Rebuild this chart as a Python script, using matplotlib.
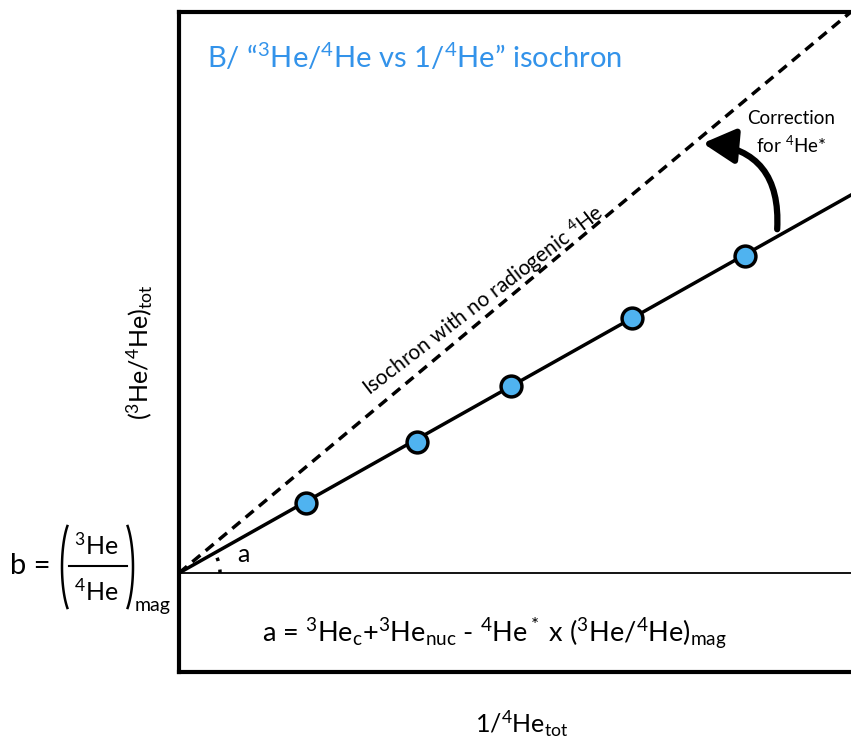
import numpy as np
import matplotlib
matplotlib.use("Agg")
import matplotlib.pyplot as plt
from matplotlib.patches import FancyArrowPatch, Arc

plt.rcParams['font.family'] = ['Lato', 'DejaVu Sans']
plt.rcParams['mathtext.fontset'] = 'custom'
plt.rcParams['mathtext.rm'] = 'Lato'
plt.rcParams['mathtext.it'] = 'Lato:italic'
plt.rcParams['mathtext.bf'] = 'Lato:bold'

# schematic data (x = 1/4He_tot, y = 3He/4He_tot - b), arbitrary units
x_pts = [127, 238, 332, 453, 566]
y_pts = [70, 131, 187, 255, 317]
slope_meas = 0.5625      # measured isochron
slope_norad = 0.835      # isochron with no radiogenic 4He
x_max, y_min, y_max = 674, -99, 561

fig = plt.figure(figsize=(8.51, 7.52), dpi=100)
ax = fig.add_axes([179/851, 80/752, 674/851, 660/752])
ax.set_xlim(0, x_max); ax.set_ylim(y_min, y_max)
ax.set_xticks([]); ax.set_yticks([])
for s in ['left', 'top', 'bottom']:
    ax.spines[s].set_linewidth(3)
ax.spines['right'].set_visible(False)

xx = np.array([0, x_max])
ax.axhline(0, color='black', lw=1.3)
ax.plot(xx, slope_norad*xx, color='black', lw=2.5, ls=(0, (3, 2)))
ax.plot(xx, slope_meas*xx, color='black', lw=2.5)
ax.plot(x_pts, y_pts, 'o', ms=15, mfc='#4fb3f0', mec='black', mew=2.5, zorder=5)

# angle a
ax.add_patch(Arc((0, 0), 82, 82, theta1=0, theta2=30, ls=(0, (1, 2.5)), lw=2.5, color='black'))
ax.text(58, 18, 'a', fontsize=18, ha='left', va='center')

# correction arrow
arr = FancyArrowPatch((598, 341), (521, 430), connectionstyle='arc3,rad=0.5',
                      arrowstyle='-|>,head_length=13,head_width=7', lw=4.5, color='black',
                      mutation_scale=1.5)
ax.add_patch(arr)
ax.text(612, 455, 'Correction', fontsize=13.5, ha='center', va='center')
ax.text(612, 428, 'for $^4$He*', fontsize=13.5, ha='center', va='center')

ax.text(305, 272, 'Isochron with no radiogenic $^4$He', fontsize=15, rotation=37.5,
        ha='center', va='center', rotation_mode='anchor')

ax.text(28, 516, 'B/ “$^3$He/$^4$He vs 1/$^4$He” isochron', fontsize=21,
        color='#3393ea', ha='left', va='center')

ax.text(315, -60, 'a = $^3$He$_\\mathrm{c}$+$^3$He$_\\mathrm{nuc}$ - $^4$He$^*$ x ($^3$He/$^4$He)$_\\mathrm{mag}$',
        fontsize=19.5, ha='center', va='center')

# overlay in pixel units for the intercept expression and axis labels
ov = fig.add_axes([0, 0, 1, 1], facecolor='none')
ov.set_xlim(0, 851); ov.set_ylim(752, 0); ov.axis('off')
ov.text(10, 566, 'b =', fontsize=21, ha='left', va='center')
ov.text(96, 545, '$^3$He', fontsize=18, ha='center', va='center')
ov.text(96, 591, '$^4$He', fontsize=18, ha='center', va='center')
ov.plot([69, 127], [566, 566], color='black', lw=1.5)
t = np.linspace(-np.radians(52), np.radians(52), 40)
ov.plot(76 - 14*np.cos(t), 567 + 52*np.sin(t), color='black', lw=1.8)
ov.plot(119 + 14*np.cos(t), 567 + 52*np.sin(t), color='black', lw=1.8)
ov.text(135, 606, 'mag', fontsize=14, ha='left', va='center')

ov.text(522, 724, '1/$^4$He$_\\mathrm{tot}$', fontsize=18, ha='center', va='center')
ov.text(140, 352, '($^3$He/$^4$He)$_\\mathrm{tot}$', fontsize=18, ha='center', va='center',
        rotation=90)

fig.savefig('out.png', dpi=100)
